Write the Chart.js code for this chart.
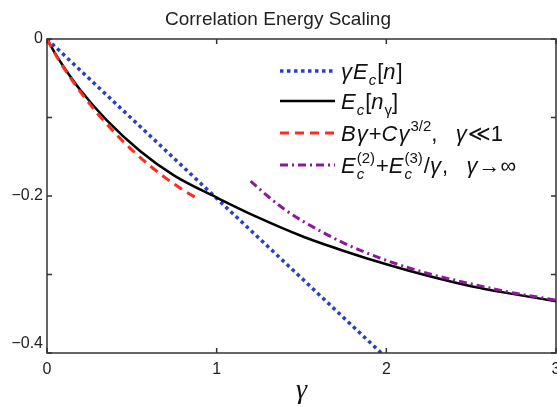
<!DOCTYPE html>
<html><head><meta charset="utf-8">
<script src="https://cdn.jsdelivr.net/npm/chart.js@4/dist/chart.umd.min.js"></script>
<style>html,body{margin:0;padding:0;background:#fff}#wrap{position:relative;width:557px;height:407px}</style>
</head><body><div id="wrap"><canvas id="c" width="557" height="407"></canvas></div>
<script>
// ---- data ----
const gammaBlue = [0, 1.97];
const blueValues = [0, -0.4];

const gammaBlack = [0, 0.05, 0.1, 0.2, 0.35, 0.55, 0.75, 1.0, 1.25, 1.5, 1.75, 2.0, 2.25, 2.5, 2.75, 3.0];
const blackValues = [0, -0.019, -0.036, -0.066, -0.103, -0.143, -0.174, -0.202, -0.228, -0.251, -0.270, -0.287, -0.302, -0.315, -0.325, -0.334];

const gammaRed = [0, 0.05, 0.1, 0.2, 0.3, 0.4, 0.5, 0.6, 0.7, 0.8, 0.9];
const redValues = [0, -0.0196, -0.0371, -0.0682, -0.0955, -0.1197, -0.1412, -0.1603, -0.1772, -0.1921, -0.2051];

const gammaPurple = [1.2, 1.3, 1.4, 1.5, 1.75, 2.0, 2.25, 2.5, 2.75, 3.0];
const purpleValues = [-0.181, -0.200, -0.217, -0.231, -0.260, -0.282, -0.299, -0.312, -0.3235, -0.3327];

const xTickValues = [0, 1, 2, 3];
const xTickLabels = ['0', '1', '2', '3'];
const yTickValues = [0, -0.2, -0.4];
const yTickLabels = ['0', '\u22120.2', '\u22120.4'];

const titleText = 'Correlation Energy Scaling';
const xTitle = '\u03b3';

// ---- styling ----
const BLUE = '#2a3fc4', RED = '#ff2b1c', PURPLE = '#8c1a98', BLACK = '#000';
const FAM = "'Liberation Sans', 'DejaVu Sans', sans-serif";
const BIG = 22, SMALL = 15;

function pts(xs, ys) { return xs.map((x, i) => ({ x: x, y: ys[i] })); }

const legendRows = [
  { color: BLUE, dash: [3.5, 3.5], width: 3.5,
    runs: [{t:'\u03b3',i:1},{t:'E',i:1},{t:'c',i:1,sub:1},{t:'['},{t:'n',i:1},{t:']'}] },
  { color: BLACK, dash: [], width: 2.5,
    runs: [{t:'E',i:1},{t:'c',i:1,sub:1},{t:'['},{t:'n',i:1},{t:'\u03b3',sub:1},{t:']'}] },
  { color: RED, dash: [9, 6], width: 3,
    runs: [{t:'B',i:1},{t:'\u03b3',i:1},{t:'+'},{t:'C',i:1},{t:'\u03b3',i:1},{t:'3/2',sup:1},{t:',   '},{t:'\u03b3',i:1},{t:'\u226a1'}] },
  { color: PURPLE, dash: [8, 4, 2, 4], width: 3,
    runs: [{t:'E',i:1},{stack:1,sub:'c',sup:'(2)'},{t:'+'},{t:'E',i:1},{stack:1,sub:'c',sup:'(3)'},{t:'/'},{t:'\u03b3',i:1},{t:',   '},{t:'\u03b3',i:1},{t:'\u2192\u221e'}] }
];

function drawRuns(ctx, x, base, runs) {
  let cx = x;
  ctx.fillStyle = '#111';
  ctx.textAlign = 'left';
  ctx.textBaseline = 'alphabetic';
  for (const r of runs) {
    if (r.stack) {
      ctx.font = 'italic ' + SMALL + 'px ' + FAM;
      const w1 = ctx.measureText(r.sub).width;
      ctx.fillText(r.sub, cx, base + 6);
      ctx.font = SMALL + 'px ' + FAM;
      const w2 = ctx.measureText(r.sup).width;
      ctx.fillText(r.sup, cx, base - 10);
      cx += Math.max(w1, w2) + 1;
    } else {
      const small = r.sub || r.sup;
      const size = small ? SMALL : BIG;
      ctx.font = (r.i ? 'italic ' : '') + size + 'px ' + FAM;
      const dy = r.sub ? 6 : (r.sup ? -10 : 0);
      ctx.fillText(r.t, cx, base + dy);
      cx += ctx.measureText(r.t).width + (r.i ? 1 : 0);
    }
  }
}

const legendPlugin = {
  id: 'mathLegend',
  afterDraw(chart) {
    const ctx = chart.ctx;
    const rowsY = [71, 101, 133, 165];
    ctx.save();
    legendRows.forEach((row, k) => {
      const yc = rowsY[k];
      ctx.beginPath();
      ctx.strokeStyle = row.color;
      ctx.lineWidth = row.width;
      ctx.lineCap = 'butt';
      ctx.setLineDash(row.dash);
      ctx.moveTo(280, yc);
      ctx.lineTo(335, yc);
      ctx.stroke();
      ctx.setLineDash([]);
      drawRuns(ctx, 341, yc + 8, row.runs);
    });
    ctx.restore();
  }
};

const framePlugin = {
  id: 'frame',
  afterDatasetsDraw(chart) {
    const { ctx, chartArea: { left, right, top, bottom }, scales: { x, y } } = chart;
    ctx.save();
    ctx.strokeStyle = '#333';
    ctx.lineWidth = 1.5;
    ctx.setLineDash([]);
    ctx.strokeRect(left, top, right - left, bottom - top);
    ctx.beginPath();
    x.ticks.forEach(t => {
      const px = x.getPixelForValue(t.value);
      ctx.moveTo(px, bottom); ctx.lineTo(px, bottom - 5);
      ctx.moveTo(px, top); ctx.lineTo(px, top + 5);
    });
    y.ticks.forEach(t => {
      const py = y.getPixelForValue(t.value);
      ctx.moveTo(left, py); ctx.lineTo(left + 5, py);
      ctx.moveTo(right, py); ctx.lineTo(right - 5, py);
    });
    ctx.stroke();
    ctx.restore();
  }
};

function labelFor(values, labels, v) {
  for (let i = 0; i < values.length; i++) {
    if (Math.abs(values[i] - v) < 1e-6) return labels[i];
  }
  return '';
}

new Chart(document.getElementById('c'), {
  type: 'line',
  data: {
    datasets: [
      { label: 'E_c^(2)+E_c^(3)/\u03b3, \u03b3\u2192\u221e', data: pts(gammaPurple, purpleValues), borderColor: PURPLE, borderWidth: 3, borderDash: [8, 4, 2, 4] },
      { label: 'B\u03b3+C\u03b3^3/2, \u03b3\u226a1', data: pts(gammaRed, redValues), borderColor: RED, borderWidth: 3, borderDash: [9, 6] },
      { label: 'E_c[n_\u03b3]', data: pts(gammaBlack, blackValues), borderColor: BLACK, borderWidth: 2.5 },
      { label: '\u03b3E_c[n]', data: pts(gammaBlue, blueValues), borderColor: BLUE, borderWidth: 3.5, borderDash: [3.5, 3.5] }
    ]
  },
  options: {
    animation: false,
    responsive: false,
    devicePixelRatio: 1,
    elements: {
      point: { radius: 0, hoverRadius: 0 },
      line: { tension: 0.4, cubicInterpolationMode: 'monotone', fill: false, borderCapStyle: 'butt' }
    },
    layout: { padding: { left: 0, right: 1, top: 0, bottom: 0 } },
    plugins: {
      legend: { display: false },
      tooltip: { enabled: false },
      title: {
        display: true, text: titleText, fullSize: true, color: '#222',
        font: { family: FAM, size: 19, weight: 'normal', lineHeight: 1.2 },
        padding: { top: 8, bottom: 8.2 }
      }
    },
    scales: {
      x: {
        type: 'linear', min: 0, max: 3,
        grid: { display: false, drawTicks: false }, border: { display: false },
        ticks: {
          stepSize: 1, autoSkip: false, maxRotation: 0, padding: 7, color: '#222',
          font: { family: FAM, size: 16 },
          callback: v => labelFor(xTickValues, xTickLabels, v)
        },
        title: {
          display: true, text: xTitle, color: '#111',
          font: { family: "'Liberation Serif', serif", size: 28, style: 'italic', lineHeight: 1 },
          padding: { top: 0, bottom: 2 }
        },
        afterFit(s) { s.height = 54; s.paddingLeft = 0; s.paddingRight = 0; }
      },
      y: {
        type: 'linear', min: -0.4, max: 0,
        grid: { display: false, drawTicks: false }, border: { display: false },
        ticks: {
          stepSize: 0.1, autoSkip: false, padding: 4, color: '#222',
          font: { family: FAM, size: 16 },
          callback: v => {
            const s = labelFor(yTickValues, yTickLabels, v);
            return Math.abs(v + 0.4) < 1e-6 ? [s, ''] : s;
          }
        },
        afterFit(s) { s.width = 47; s.paddingTop = 0; s.paddingBottom = 0; }
      }
    }
  },
  plugins: [framePlugin, legendPlugin]
});
</script>
</body></html>
